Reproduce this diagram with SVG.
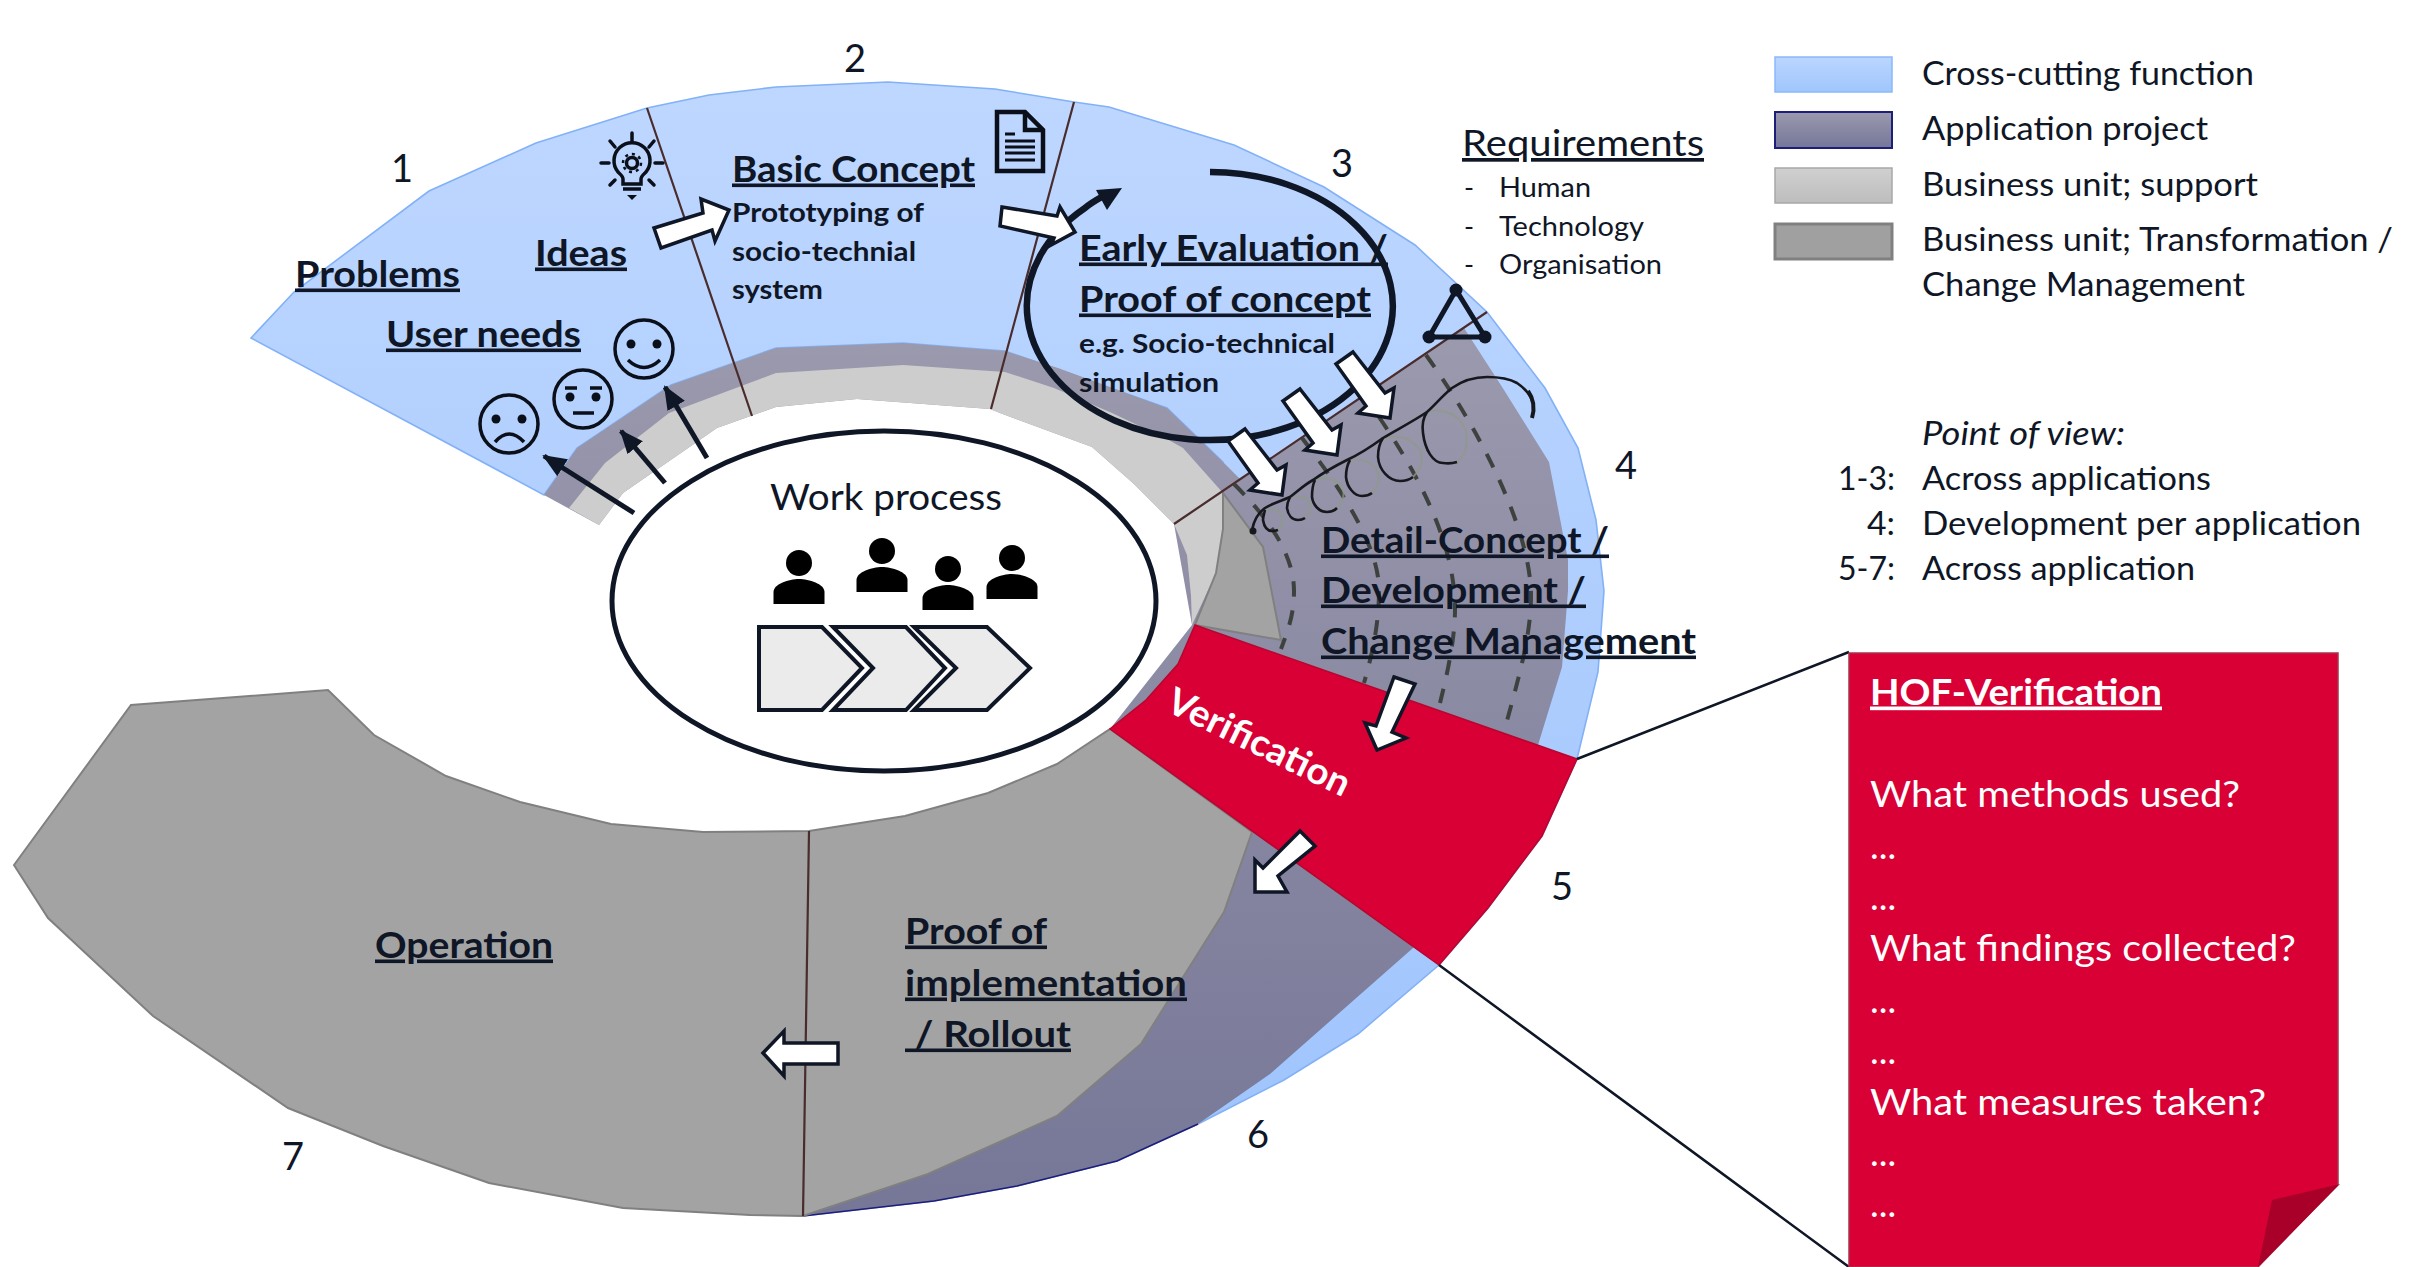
<svg xmlns="http://www.w3.org/2000/svg" xmlns:xlink="http://www.w3.org/1999/xlink" width="2424" height="1267" viewBox="0 0 2424 1267">
<style>
text{font-family:"Lato","Open Sans","Liberation Sans",sans-serif;fill:#0f1626;font-size:34px}
.h{font-weight:700;font-size:36px;text-decoration:underline}
.s{font-weight:700;font-size:27px}
.n{font-size:38px;text-anchor:middle}
.r{font-size:27px}
.l{font-size:33px}
.w{fill:#fff}
.div{stroke:#4a2c2c;stroke-width:2.2;fill:none}
.blk{fill:#fff;stroke:#0f1626;stroke-width:3.5;stroke-linejoin:miter}
.arr{stroke:#0f1626;stroke-width:5;fill:none;marker-end:url(#ah)}
.dash{stroke:#3e423e;stroke-width:4;fill:none;stroke-dasharray:15 14}
.face{fill:none;stroke:#0b0f1a;stroke-width:3.5}
.ink{fill:#0b0f1a}
.coil{fill:none;stroke:#16181e;stroke-width:2.6}
.coilf{fill:none;stroke:#8f9a88;stroke-width:2;opacity:.75}
.ic{fill:none;stroke:#0b0f1a;stroke-width:3.5;stroke-linecap:round}
.shift{transform:translate(0,1.5px)}
</style>
<defs>
<linearGradient id="gb" gradientUnits="userSpaceOnUse" x1="0" y1="80" x2="0" y2="1220"><stop offset="0" stop-color="#bed7ff"/><stop offset="1" stop-color="#9dc3fd"/></linearGradient>
<linearGradient id="gp" gradientUnits="userSpaceOnUse" x1="0" y1="340" x2="0" y2="1220"><stop offset="0" stop-color="#9a99ad"/><stop offset="1" stop-color="#767697"/></linearGradient>
<linearGradient id="lb" x1="0" y1="0" x2="0" y2="1"><stop offset="0" stop-color="#bbd5fe"/><stop offset="1" stop-color="#a0c6fd"/></linearGradient>
<linearGradient id="lp" x1="0" y1="0" x2="0" y2="1"><stop offset="0" stop-color="#9a99ad"/><stop offset="1" stop-color="#76769a"/></linearGradient>
<linearGradient id="ll" x1="0" y1="0" x2="0" y2="1"><stop offset="0" stop-color="#d0d0d0"/><stop offset="1" stop-color="#bdbdbd"/></linearGradient>
<marker id="ah" markerUnits="userSpaceOnUse" markerWidth="28" markerHeight="24" refX="22" refY="10" orient="auto"><path d="M0 0L24 10L0 20Z" fill="#0f1626"/></marker>
<symbol id="person" overflow="visible"><circle cx="0" cy="0" r="13"/><path d="M-25.5 41V29C-25.5 21-10 16 0 16C10 16 25.5 21 25.5 29V41Z"/></symbol>
</defs>

<g id="cross-cutting-function">
<path fill="url(#gb)" stroke="#82b1f7" stroke-width="1.6" d="M251 338L294 292L429 191L536 143L647 108L709 95L776 87L888 82L995 89L1074 102L1109 107L1234 145L1324 187L1415 245L1487 312L1545 388L1578 448L1596 520L1604 591L1598 672L1577 759L1542 836L1488 908L1439 965L1358 1034L1284 1080L1198 1124L1117 1161L1017 1186L934 1201L803 1216L1252 832L1281 640L1223 493L1223 462L1167 408L1005 351L903 343L776 348L671 385L577 448L544 495Z"/>
</g>
<g id="application-project">
<path fill="url(#gp)" d="M544 495L577 448L671 385L776 348L903 343L1005 351L1058 368L1167 408L1223 462L1240 479L1464 328L1504 390L1549 462L1568 560L1568 591L1562 667L1538 745L1413 948L1270 1074L1198 1124L1117 1161L1017 1186L934 1201L803 1216L1110 729L1192 625L1174 524L1134 484L1092 447L1000 413L990 409L857 399L776 407L717 428L623 493L599 525Z"/>
<path fill="none" stroke="#1d1d7a" stroke-width="1.6" d="M1198 1124L1117 1161L1017 1186L934 1201L803 1216"/>
</g>
<g id="business-support">
<path fill="#cdcdcd" d="M569 508L605 463L669 413L776 373L903 365L1005 372L1054 388L1112 413L1167 439L1183 448L1223 493L1223 529L1216 573L1192 625L1191 596L1187 555L1174 524L1134 484L1092 447L1000 413L990 409L857 399L776 407L717 428L623 493L599 525Z"/>
</g>
<g id="business-transformation">
<path fill="#a3a3a3" stroke="#808080" stroke-width="2" d="M1223 493L1263 547L1281 640L1195 625L1216 573L1223 529Z"/>
<path fill="#a3a3a3" stroke="#808080" stroke-width="2" d="M14 865L131 705L328 690L374 735L446 776L520 802L611 824L703 832L809 831L905 816L988 793L1057 764L1110 729L1252 832L1224 912L1141 1044L1057 1116L928 1174L803 1216L750 1215L623 1208L489 1183L383 1146L288 1108L153 1016L48 918Z"/>
</g>
<g id="verification">
<path fill="#d80035" stroke="#b8062f" stroke-width="1.5" d="M1195 625L1577 759L1542 836L1488 908L1439 965L1110 729L1146 700L1178 664Z"/>
<text class="w" transform="translate(1164 710) rotate(26)" style="font-weight:700;font-size:37px" textLength="199" lengthAdjust="spacingAndGlyphs">Verification</text>
</g>

<g id="connectors">
<path class="div" d="M647 108L752 416M1074 102L991 409M1487 312L1174 524M809 831L803 1216"/>
<path d="M1577 759L1849 652M1439 965L1849 1267" fill="none" stroke="#0f1626" stroke-width="2.5"/>
<path class="dash" d="M1234 484C1262 512 1294 550 1294 591C1294 615 1288 630 1281 649"/>
<path class="dash" d="M1302 438C1330 475 1379 540 1379 590C1379 625 1372 655 1364 683"/>
<path class="dash" d="M1379 417C1415 470 1455 540 1455 609C1455 640 1447 675 1440 703"/>
<path class="dash" d="M1426 355C1480 430 1531 530 1531 596C1531 640 1515 690 1504 732"/>
<g id="coil">
<path class="coilf" d="M1457 462C1468 455 1469 435 1463 425C1457 413 1440 408 1427 412M1413 477C1425 465 1425 450 1412 442C1402 435 1392 436 1383 438M1372 493C1382 483 1381 470 1370 463C1363 459 1356 459 1350 460M1337 508C1347 498 1345 485 1335 481C1328 478 1321 478 1315 480M1305 518C1314 510 1311 500 1303 497C1298 496 1294 496 1290 497M1278 530C1286 522 1282 510 1273 509L1265 510"/>
<path class="coil" d="M1252 530C1254 520 1258 513 1265 508C1273 503 1281 501 1290 497C1298 491 1304 485 1313 480C1323 473 1335 466 1347 460C1360 454 1372 446 1383 438C1398 429 1412 422 1427 412C1436 404 1443 395 1452 388C1462 381 1474 377 1487 377C1500 377 1510 379 1517 383C1526 389 1531 396 1533 403"/>
<path class="coil" d="M1427 412C1423 418 1422 426 1423 433C1425 450 1433 463 1443 463Q1451 464 1457 462"/>
<path class="coil" d="M1383 438C1379 444 1378 450 1378 457C1379 470 1389 481 1400 481Q1408 481 1413 477"/>
<path class="coil" d="M1350 460C1347 465 1346 471 1346 477C1347 487 1354 496 1362 496Q1368 496 1372 493"/>
<path class="coil" d="M1315 480C1312 486 1312 491 1312 497C1313 505 1319 512 1327 512Q1333 512 1337 508"/>
<path class="coil" d="M1290 497C1288 501 1287 504 1287 508C1288 515 1292 520 1298 520Q1302 520 1305 518"/>
<path class="coil" d="M1265 510C1264 514 1263 517 1263 520C1264 526 1267 531 1272 531Q1275 531 1278 530"/>
<path d="M1528 391C1533 398 1535 408 1532 418" stroke="#16181e" stroke-width="4" fill="none"/>
<circle cx="1253" cy="531" r="3.5" fill="#16181e"/>
</g>
<path d="M1210 172A183 134 0 1 1 1085 208C1092 202 1100 198 1107 194" fill="none" stroke="#0f1626" stroke-width="6.5"/>
<path d="M1122 188L1096 190L1107 210Z" fill="#0f1626"/>
<path class="arr" d="M634 513L544 456"/>
<path class="arr" d="M665 483L621 431"/>
<path class="arr" d="M707 458L665 387"/>
<path class="blk" d="M654 228L703 213L701 199L729 210L715 241L712 230L661 248Z"/>
<path class="blk" d="M1002 207L1057 216L1060 207L1075 232L1051 245L1054 238L1000 226Z"/>
<path class="blk" d="M1353 352L1385 393L1394 388L1390 418L1358 413L1366 406L1336 364Z"/>
<path class="blk" d="M1300 389L1332 430L1341 425L1337 455L1305 450L1313 443L1283 401Z"/>
<path class="blk" d="M1245 429L1277 470L1286 465L1282 495L1250 490L1258 483L1228 441Z"/>
<path class="blk" d="M1394 677L1415 684L1392 732L1406 738L1377 750L1365 723L1376 726Z"/>
<path class="blk" d="M1300 831L1315 846L1278 876L1287 892L1255 892L1255 860L1263 868Z"/>
<path class="blk" d="M763 1053L784 1031L784 1043L838 1043L838 1064L784 1064L784 1076Z"/>
</g>

<g id="work-process">
<ellipse cx="884" cy="601" rx="272" ry="170" fill="#fff" stroke="#0f1626" stroke-width="5"/>
<text x="770" y="509.500" style="font-size:37px" textLength="232" lengthAdjust="spacingAndGlyphs">Work process</text>
<g fill="#000">
<use xlink:href="#person" href="#person" x="799" y="563"/>
<use xlink:href="#person" href="#person" x="882" y="551"/>
<use xlink:href="#person" href="#person" x="948" y="569"/>
<use xlink:href="#person" href="#person" x="1012" y="558"/>
</g>
<g fill="#ebebeb" stroke="#0f1626" stroke-width="4">
<path d="M759 627H822L862 668L822 710H759Z"/>
<path d="M833 627H906L945 668L906 710H833L873 668Z"/>
<path d="M914 627H987L1030 668L987 710H914L956 668Z"/>
</g>
</g>

<g id="step-1">
<g class="shift">
<text class="n" x="402" y="180">1</text>
<text class="h" x="295" y="285" textLength="165" lengthAdjust="spacingAndGlyphs">Problems</text>
<text class="h" x="535" y="264" textLength="92" lengthAdjust="spacingAndGlyphs">Ideas</text>
<text class="h" x="386" y="345" textLength="195" lengthAdjust="spacingAndGlyphs">User needs</text>
</g>
<g id="bulb-icon">
<path class="ic" d="M632 133V142M610 141L615 147M654 141L649 147M601 163H609M655 163H663M610 185L615 180M654 185L649 180"/>
<path d="M623 184V179C623 176 620 174 618 172A18 18 0 1 1 646 172C644 174 641 176 641 179V184Z" fill="none" stroke="#0b0f1a" stroke-width="3.5"/>
<path d="M623 189H641" stroke="#0b0f1a" stroke-width="3.5"/>
<path d="M627 195H637L632 200Z" class="ink"/>
<circle cx="632" cy="163" r="5.500" fill="none" stroke="#0b0f1a" stroke-width="3.5"/>
<circle cx="632" cy="163" r="9" fill="none" stroke="#0b0f1a" stroke-width="2.5" stroke-dasharray="3 4"/>
</g>
<g id="faces">
<circle class="face" cx="509" cy="424" r="29"/><circle class="ink" cx="496" cy="419" r="4.5"/><circle class="ink" cx="522" cy="419" r="4.5"/><path class="face" d="M495 442Q509 426 524 442"/>
<circle class="face" cx="583" cy="399" r="29"/><circle class="ink" cx="570" cy="397" r="4.5"/><circle class="ink" cx="596" cy="397" r="4.5"/><path class="face" d="M565 388H577M590 388H602M573 413H594"/>
<circle class="face" cx="644" cy="349" r="29"/><circle class="ink" cx="631" cy="344" r="4.5"/><circle class="ink" cx="657" cy="344" r="4.5"/><path class="face" d="M628 360Q644 375 660 360"/>
</g>
</g>

<g id="step-2">
<g class="shift">
<text class="n" x="855" y="70">2</text>
<text class="h" x="732" y="180" textLength="243" lengthAdjust="spacingAndGlyphs">Basic Concept</text>
<text class="s" x="732" y="220" textLength="192" lengthAdjust="spacingAndGlyphs">Prototyping of</text>
<text class="s" x="732" y="259" textLength="184" lengthAdjust="spacingAndGlyphs">socio-technial</text>
<text class="s" x="732" y="297" textLength="91" lengthAdjust="spacingAndGlyphs">system</text>
</g>
<g id="doc-icon">
<path d="M997 112H1025L1043 130V171H997Z" fill="none" stroke="#0b0f1a" stroke-width="4.5"/>
<path d="M1025 112V130H1043" fill="none" stroke="#0b0f1a" stroke-width="4.5"/>
<path d="M1005 134H1015M1005 141H1035M1005 147H1035M1005 153H1035M1005 160H1035" stroke="#0b0f1a" stroke-width="3"/>
</g>
</g>

<g id="step-3" class="shift">
<text class="n" x="1342" y="175">3</text>
<text class="h" x="1079" y="259" textLength="309" lengthAdjust="spacingAndGlyphs">Early Evaluation /</text>
<text class="h" x="1079" y="310" textLength="292" lengthAdjust="spacingAndGlyphs">Proof of concept</text>
<text class="s" x="1079" y="351" textLength="256" lengthAdjust="spacingAndGlyphs">e.g. Socio-technical</text>
<text class="s" x="1079" y="390" textLength="140" lengthAdjust="spacingAndGlyphs">simulation</text>
</g>

<g id="requirements">
<text x="1462" y="156" style="font-size:37px;text-decoration:underline" textLength="242" lengthAdjust="spacingAndGlyphs">Requirements</text>
<text class="r" x="1464" y="197">-</text><text class="r" x="1499" y="197" textLength="92" lengthAdjust="spacingAndGlyphs">Human</text>
<text class="r" x="1464" y="236">-</text><text class="r" x="1499" y="236" textLength="145" lengthAdjust="spacingAndGlyphs">Technology</text>
<text class="r" x="1464" y="274">-</text><text class="r" x="1499" y="274" textLength="163" lengthAdjust="spacingAndGlyphs">Organisation</text>
<g id="triangle" fill="none" stroke="#0f1626" stroke-width="5">
<path d="M1456 290L1429 337H1485Z"/>
<circle cx="1456" cy="290" r="6.5" fill="#0f1626" stroke="none"/>
<circle cx="1429" cy="337" r="6.5" fill="#0f1626" stroke="none"/>
<circle cx="1485" cy="337" r="6.5" fill="#0f1626" stroke="none"/>
</g>
</g>

<g id="step-4" class="shift">
<text class="n" x="1626" y="477">4</text>
<text class="h" x="1321" y="551" textLength="288" lengthAdjust="spacingAndGlyphs">Detail-Concept /</text>
<text class="h" x="1321" y="601" textLength="265" lengthAdjust="spacingAndGlyphs">Development /</text>
<text class="h" x="1321" y="652" textLength="375" lengthAdjust="spacingAndGlyphs">Change Management</text>
</g>
<g id="step-5" class="shift"><text class="n" x="1562" y="898">5</text></g>
<g id="step-6" class="shift">
<text class="n" x="1258" y="1146">6</text>
<text class="h" x="905" y="942" textLength="142" lengthAdjust="spacingAndGlyphs">Proof of</text>
<text class="h" x="905" y="994" textLength="282" lengthAdjust="spacingAndGlyphs">implementation</text>
<text class="h" x="905" y="1045" textLength="166" lengthAdjust="spacingAndGlyphs">&#160;/ Rollout</text>
</g>
<g id="step-7" class="shift">
<text class="n" x="293" y="1168">7</text>
<text class="h" x="375" y="956" textLength="178" lengthAdjust="spacingAndGlyphs">Operation</text>
</g>

<g id="legend">
<rect x="1775" y="57" width="117" height="35" fill="url(#lb)" stroke="#8ab8fa" stroke-width="1.5"/>
<rect x="1775" y="112" width="117" height="36" fill="url(#lp)" stroke="#1d1d7a" stroke-width="2"/>
<rect x="1775" y="168" width="117" height="35" fill="url(#ll)" stroke="#a8a8a8" stroke-width="1.5"/>
<rect x="1775" y="224" width="117" height="35" fill="#a0a0a0" stroke="#808080" stroke-width="3"/>
<text class="l" x="1922" y="85" textLength="332" lengthAdjust="spacingAndGlyphs">Cross-cutting function</text>
<text class="l" x="1922" y="140" textLength="286" lengthAdjust="spacingAndGlyphs">Application project</text>
<text class="l" x="1922" y="196" textLength="336" lengthAdjust="spacingAndGlyphs">Business unit; support</text>
<text class="l" x="1922" y="251" textLength="471" lengthAdjust="spacingAndGlyphs">Business unit; Transformation /</text>
<text class="l" x="1922" y="296" textLength="323" lengthAdjust="spacingAndGlyphs">Change Management</text>
</g>
<g id="point-of-view">
<text class="l" x="1922" y="445" style="font-style:italic" textLength="203" lengthAdjust="spacingAndGlyphs">Point of view:</text>
<text class="l" x="1838" y="490" textLength="57" lengthAdjust="spacingAndGlyphs">1-3:</text>
<text class="l" x="1922" y="490" textLength="289" lengthAdjust="spacingAndGlyphs">Across applications</text>
<text class="l" x="1867" y="535" textLength="28" lengthAdjust="spacingAndGlyphs">4:</text>
<text class="l" x="1922" y="535" textLength="439" lengthAdjust="spacingAndGlyphs">Development per application</text>
<text class="l" x="1838" y="580" textLength="57" lengthAdjust="spacingAndGlyphs">5-7:</text>
<text class="l" x="1922" y="580" textLength="273" lengthAdjust="spacingAndGlyphs">Across application</text>
</g>

<g id="hof-verification">
<path d="M1849 653H2338V1184L2258 1267H1849Z" fill="#d80035" stroke="#a8324f" stroke-width="1.5"/>
<path d="M2272 1200L2340 1184L2258 1267Z" fill="#a80028"/>
<text class="w" x="1870" y="704.500" style="font-weight:700;font-size:37px;text-decoration:underline" textLength="292" lengthAdjust="spacingAndGlyphs">HOF-Verification</text>
<text class="w" x="1870" y="806.500" style="font-size:37px" textLength="370" lengthAdjust="spacingAndGlyphs">What methods used?</text>
<text class="w" x="1870" y="858.500" style="font-size:37px">...</text>
<text class="w" x="1870" y="909.500" style="font-size:37px">...</text>
<text class="w" x="1870" y="960.500" style="font-size:37px" textLength="426" lengthAdjust="spacingAndGlyphs">What findings collected?</text>
<text class="w" x="1870" y="1012.500" style="font-size:37px">...</text>
<text class="w" x="1870" y="1063.500" style="font-size:37px">...</text>
<text class="w" x="1870" y="1114.500" style="font-size:37px" textLength="396" lengthAdjust="spacingAndGlyphs">What measures taken?</text>
<text class="w" x="1870" y="1165.500" style="font-size:37px">...</text>
<text class="w" x="1870" y="1216.500" style="font-size:37px">...</text>
</g>
</svg>
